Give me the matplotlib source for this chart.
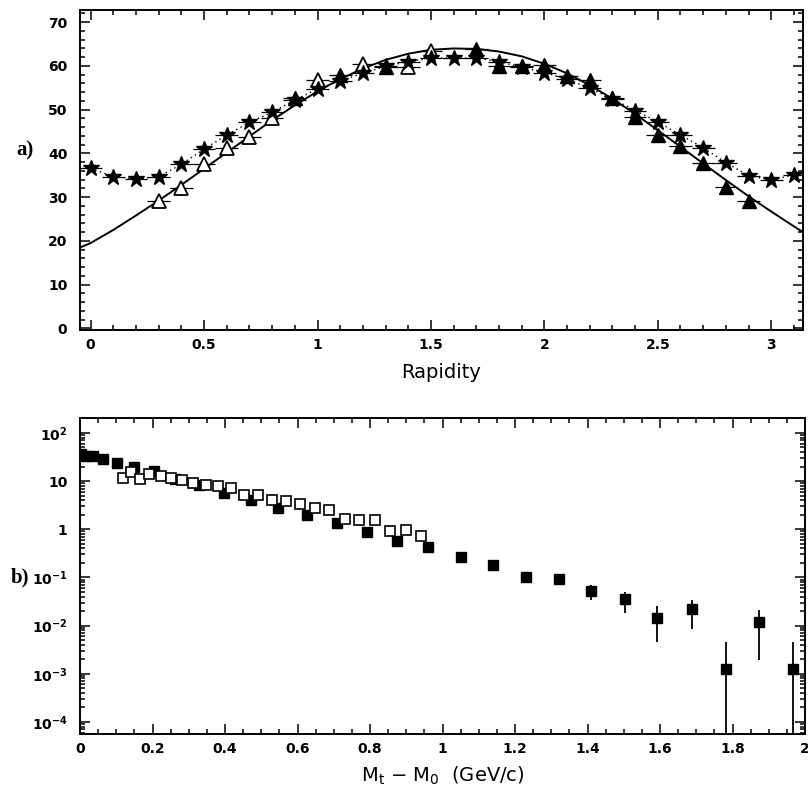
import matplotlib
matplotlib.use("Agg")
import matplotlib.pyplot as plt
import numpy as np
from matplotlib.ticker import MultipleLocator, LogLocator, FixedLocator, NullFormatter, FuncFormatter

# ---- panel a) rapidity distributions ----
star_x = [0.0, 0.1, 0.2, 0.3, 0.4, 0.5, 0.6, 0.7, 0.8, 0.9, 1.0, 1.1, 1.2, 1.3, 1.4, 1.5,
          1.6, 1.7, 1.8, 1.9, 2.0, 2.1, 2.2, 2.3, 2.4, 2.5, 2.6, 2.7, 2.8, 2.9, 3.0, 3.1]
star_y = [36.6, 34.7, 34.1, 34.7, 37.5, 41.0, 44.2, 47.1, 49.4, 52.2, 54.8, 56.6, 58.3, 59.9, 61.0, 61.8,
          61.8, 61.8, 61.0, 59.7, 58.5, 57.0, 54.9, 52.5, 49.8, 47.2, 44.2, 41.3, 37.9, 34.9, 33.9, 35.1]

open_tri_x = [0.3, 0.4, 0.5, 0.6, 0.7, 0.8, 1.0, 1.2, 1.4, 1.5]
open_tri_y = [29.0, 32.0, 37.5, 41.3, 43.8, 48.1, 56.8, 60.4, 59.8, 63.4]

full_tri_x = [0.9, 1.1, 1.3, 1.7, 1.8, 1.9, 2.0, 2.1, 2.2, 2.3, 2.4, 2.5, 2.6, 2.7, 2.8, 2.9]
full_tri_y = [52.6, 58.0, 59.7, 63.9, 60.0, 59.9, 60.3, 57.6, 56.8, 52.7, 48.4, 44.2, 41.6, 37.8, 32.4, 29.2]

curve_x = [-0.05, 0.0, 0.1, 0.2, 0.3, 0.4, 0.5, 0.6, 0.7, 0.8, 0.9, 1.0, 1.1, 1.2, 1.3, 1.4, 1.5, 1.6,
           1.7, 1.8, 1.9, 2.0, 2.1, 2.2, 2.3, 2.4, 2.5, 2.6, 2.7, 2.8, 2.9, 3.0, 3.1, 3.14]
curve_y = [18.4, 19.5, 22.5, 25.8, 29.2, 32.8, 36.5, 40.2, 43.9, 47.6, 51.0, 54.2, 57.0, 59.4, 61.4, 62.8, 63.7, 64.0,
           63.9, 63.3, 62.2, 60.5, 58.3, 55.6, 52.5, 49.0, 45.3, 41.5, 37.7, 33.9, 30.2, 26.7, 23.3, 22.0]

# ---- panel b) transverse mass spectra ----
full_sq_x = [0.003, 0.015, 0.035, 0.064, 0.103, 0.150, 0.205, 0.262, 0.329, 0.398, 0.472, 0.547,
             0.625, 0.708, 0.791, 0.874, 0.961, 1.050, 1.140, 1.229, 1.321, 1.410, 1.503, 1.593,
             1.687, 1.781, 1.873, 1.968]
full_sq_y = [37.0, 34.0, 32.6, 29.0, 24.0, 20.0, 16.0, 11.2, 8.5, 5.7, 4.1, 2.7,
             1.95, 1.35, 0.88, 0.57, 0.42, 0.266, 0.179, 0.102, 0.092, 0.052, 0.035, 0.0147,
             0.022, 0.00123, 0.012, 0.00123]
full_sq_lo = [37.0, 34.0, 32.6, 29.0, 24.0, 20.0, 16.0, 11.2, 8.5, 5.7, 4.1, 2.7,
              1.95, 1.35, 0.88, 0.57, 0.42, 0.25, 0.165, 0.088, 0.075, 0.034, 0.0184, 0.0046,
              0.0087, 1e-6, 0.0019, 1e-6]
full_sq_hi = [37.0, 34.0, 32.6, 29.0, 24.0, 20.0, 16.0, 11.2, 8.5, 5.7, 4.1, 2.7,
              1.95, 1.35, 0.88, 0.57, 0.42, 0.28, 0.195, 0.115, 0.11, 0.069, 0.050, 0.0257,
              0.0347, 0.0045, 0.0216, 0.0045]

open_sq_x = [0.118, 0.140, 0.166, 0.190, 0.223, 0.251, 0.280, 0.313, 0.347, 0.382, 0.417, 0.453,
             0.490, 0.529, 0.567, 0.607, 0.648, 0.688, 0.731, 0.771, 0.814, 0.855, 0.900, 0.940]
open_sq_y = [11.8, 15.4, 11.3, 13.8, 12.6, 11.8, 10.4, 9.1, 8.2, 7.8, 7.3, 5.1,
             5.2, 4.1, 3.8, 3.4, 2.8, 2.5, 1.66, 1.54, 1.59, 0.91, 0.95, 0.72]

tick_font = dict(family="DejaVu Sans", size=10, weight="bold")

fig = plt.figure(figsize=(8.08, 7.92), dpi=100)
W, H = 808.0, 792.0
ax1 = fig.add_axes([80 / W, 1 - 330 / H, (803 - 80) / W, (330 - 10) / H])
ax2 = fig.add_axes([80 / W, 1 - 734 / H, (805 - 80) / W, (734 - 418) / H])

# panel a
ax1.plot(curve_x, curve_y, color="black", lw=1.4, zorder=2)
ax1.plot(star_x, star_y, color="black", lw=1.0, ls=(0, (1, 2.5)), zorder=2)
ax1.errorbar(star_x, star_y, xerr=0.05, fmt="*", color="black", ms=12,
             elinewidth=0.9, capsize=0, zorder=4)
ax1.errorbar(open_tri_x, open_tri_y, xerr=0.05, fmt="^", mfc="white", mec="black",
             mew=1.3, color="black", ms=10, elinewidth=0.9, capsize=0, zorder=3)
ax1.errorbar(full_tri_x, full_tri_y, xerr=0.05, fmt="^", color="black", ms=10,
             elinewidth=0.9, capsize=0, zorder=3)

ax1.set_xlim(-0.047, 3.14)
ax1.set_ylim(-0.4, 72.8)
ax1.xaxis.set_major_locator(FixedLocator([0, 0.5, 1, 1.5, 2, 2.5, 3]))
ax1.xaxis.set_minor_locator(MultipleLocator(0.1))
ax1.yaxis.set_major_locator(FixedLocator([0, 10, 20, 30, 40, 50, 60, 70]))
ax1.yaxis.set_minor_locator(MultipleLocator(2))
ax1.xaxis.set_major_formatter(FuncFormatter(lambda v, p: f"{v:g}"))
ax1.set_xlabel("Rapidity", fontsize=14, labelpad=8)
fig.text(25 / W, 1 - 150 / H, "a)", fontsize=15, fontweight="bold",
         family="Liberation Serif", ha="center", va="center")

# panel b
yerr = [np.array(full_sq_y) - np.array(full_sq_lo), np.array(full_sq_hi) - np.array(full_sq_y)]
ax2.errorbar(full_sq_x, full_sq_y, yerr=yerr, fmt="s", color="black", ms=6.5,
             elinewidth=1.3, capsize=0, zorder=3)
ax2.plot(open_sq_x, open_sq_y, "s", mfc="white", mec="black", mew=1.2, ms=6.5, zorder=4)

ax2.set_yscale("log")
ax2.set_xlim(0, 2)
ax2.set_ylim(10 ** -4.25, 10 ** 2.31)
ax2.xaxis.set_major_locator(MultipleLocator(0.2))
ax2.xaxis.set_minor_locator(MultipleLocator(0.05))
ax2.xaxis.set_major_formatter(FuncFormatter(lambda v, p: f"{v:g}"))
ax2.yaxis.set_major_locator(FixedLocator([1e-4, 1e-3, 1e-2, 1e-1, 1, 10, 100]))
ax2.yaxis.set_minor_locator(LogLocator(base=10, subs=np.arange(2, 10), numticks=20))
ax2.yaxis.set_minor_formatter(NullFormatter())


def log_label(v, pos):
    e = int(round(np.log10(v)))
    if e == 0:
        return "1"
    if e == 1:
        return "10"
    return r"$\mathregular{10^{%d}}$" % e


ax2.yaxis.set_major_formatter(FuncFormatter(log_label))
ax2.set_xlabel(r"$\mathregular{M_t}$ $-$ $\mathregular{M_0}$  (GeV/c)", fontsize=14, labelpad=6)
fig.text(20 / W, 1 - 577 / H, "b)", fontsize=15, fontweight="bold",
         family="Liberation Serif", ha="center", va="center")

for ax in (ax1, ax2):
    for s in ax.spines.values():
        s.set_linewidth(1.4)
    ax.tick_params(which="both", direction="in", top=True, right=True, width=1.1)
    ax.tick_params(which="major", length=7)
    ax.tick_params(which="minor", length=3.5)
    ax.tick_params(axis="y", which="major", pad=9)
    ax.tick_params(axis="x", which="major", pad=6)
    for lab in ax.get_xticklabels() + ax.get_yticklabels():
        lab.set_fontfamily(tick_font["family"])
        lab.set_fontsize(tick_font["size"])
        lab.set_fontweight(tick_font["weight"])

fig.savefig("out.png", dpi=100)
